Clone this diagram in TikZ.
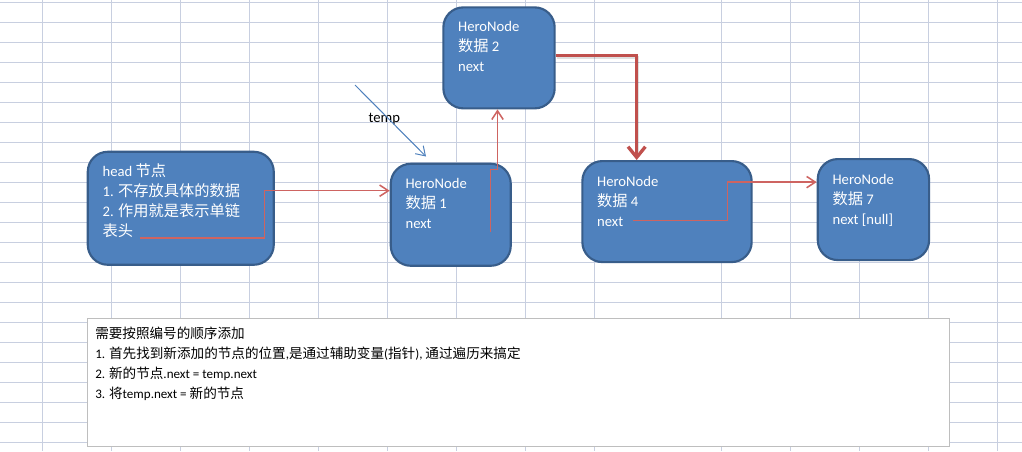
\documentclass[tikz,border=0pt]{standalone}
\usepackage{fontspec}
\setmainfont{Carlito}
\newfontfamily\cjk[Scale=1.04]{Noto Sans CJK SC}
\newcommand{\zh}[1]{{\cjk #1}}
\newcommand{\mlines}[1]{\begin{tabular}[t]{@{}l@{}}#1\end{tabular}}
\usetikzlibrary{arrows.meta,calc}
\definecolor{heroblue}{RGB}{79,129,189}
\definecolor{heroborder}{RGB}{56,93,138}
\definecolor{linkred}{RGB}{192,80,77}
\definecolor{thinred}{RGB}{206,100,97}
\definecolor{gridc}{RGB}{200,207,224}
\definecolor{boxgray}{RGB}{190,190,190}
\definecolor{tempblue}{RGB}{79,129,189}
\begin{document}
\begin{tikzpicture}[x=0.75pt,y=-0.75pt,
  boxsize/.style 2 args={minimum width={#1*0.75pt}, minimum height={#2*0.75pt}},
  hero/.style={draw=heroborder, fill=heroblue, line width=1.6pt, rounded corners=15pt, inner sep=0pt, anchor=north west},
  herotext/.style={text=white, inner sep=0pt, anchor=base west, font=\fontsize{11}{15}\selectfont},
  notebox/.style={draw=boxgray, fill=white, line width=0.8pt, inner sep=0pt, anchor=north west},
  notetext/.style={text=black, inner sep=0pt, anchor=base west, font=\fontsize{9.8}{15}\selectfont},
  gridline/.style={draw=gridc, line width=0.75pt},
  thinlink/.style={draw=thinred, line width=1.15pt, -{Straight Barb[length=6.5pt,width=8.5pt]}},
  thicklink/.style={draw=linkred, line width=2.5pt, line join=miter, -{Straight Barb[length=8pt,width=13pt]}},
  shadowlink/.style={draw=black, opacity=0.12, line width=2.5pt, line join=miter},
  templink/.style={draw=tempblue, line width=0.75pt, -{Straight Barb[length=6.5pt,width=8.5pt]}},
  templabel/.style={text=black, inner sep=0pt, anchor=base west, font=\fontsize{11}{15}\selectfont}
]
\useasboundingbox (0,0) rectangle (1022,451);
\fill[white] (0,0) rectangle (1022,451);
% grid
\foreach \gx in {42.3,111.3,180.3,249.3,318.3,387.3,456.3,525.3,594.3,721.7,790.7,859.7,928.7,997.7}
  \draw[gridline] (\gx,0) -- (\gx,451);
\foreach \k in {0,...,22}
  \draw[gridline] (0,{2.3+20*\k}) -- (1022,{2.3+20*\k});
% note box
\node[notebox, boxsize={862}{127.7}] (note) at (87,318.3) {};
\node[notetext] (notetxt) at ($(note.north west)+(8,20)$) {\mlines{\zh{需要按照编号的顺序添加}\\1. \zh{首先找到新添加的节点的位置},\zh{是通过辅助变量}(\zh{指针}), \zh{通过遍历来搞定}\\2. \zh{新的节点}.next = temp.next\\3. \zh{将}temp.next = \zh{新的节点}}};
% nodes
\node[hero, boxsize={186}{113}] (head) at (86.7,150.7) {};
\node[hero, boxsize={120}{102}] (n1) at (389.7,162.7) {};
\node[hero, boxsize={111.3}{101}] (n2) at (442.3,6.3) {};
\node[hero, boxsize={169.3}{101}] (n4) at (581.3,160) {};
\node[hero, boxsize={111.3}{101}] (n7) at (816.7,158) {};
% node texts
\node[herotext] (headtxt) at ($(head.north west)+(15.6,25.5)$) {\mlines{head \zh{节点}\\1. \zh{不存放具体的数据}\\2. \zh{作用就是表示单链}\\\zh{表头}}};
\node[herotext] (n1txt) at ($(n1.north west)+(15.6,26)$) {\mlines{HeroNode\\\zh{数据} 1\\next}};
\node[herotext] (n2txt) at ($(n2.north west)+(15.6,25)$) {\mlines{HeroNode\\\zh{数据} 2\\next}};
\node[herotext] (n4txt) at ($(n4.north west)+(15.6,26)$) {\mlines{HeroNode\\\zh{数据} 4\\next}};
\node[herotext] (n7txt) at ($(n7.north west)+(15.6,26)$) {\mlines{HeroNode\\\zh{数据} 7\\next [null]}};
% temp label and arrow
\node[templabel] (templbl) at (368.3,122.7) {temp};
\coordinate (t0) at (355,85);
\coordinate (t1) at (426,156.5);
\draw[templink] (t0) -- (t1);
% links
\coordinate (h0) at (140,238);
\coordinate (h1) at (264.3,190.7);
\draw[thinlink] (h0) -| (h1) -- (h1 -| n1.west);
\coordinate (a0) at (490.7,231.7);
\coordinate (a1) at (497.5,169.3);
\draw[thinlink] (a0) |- (a1) -- (a1 |- n2.south);
\coordinate (b1) at (636.7,55.7);
\draw[shadowlink, transform canvas={shift={(0.8pt,-1.2pt)}}] (b1 -| n2.east) -- (b1) -- ($(b1 |- n4.north)+(0,-10)$);
\draw[thicklink] (b1 -| n2.east) -- (b1) -- (b1 |- n4.north);
\coordinate (c0) at (633.3,220.7);
\coordinate (c1) at (727.3,182.1);
\draw[thinlink] (c0) -| (c1) -- (c1 -| n7.west);
\end{tikzpicture}
\end{document}
